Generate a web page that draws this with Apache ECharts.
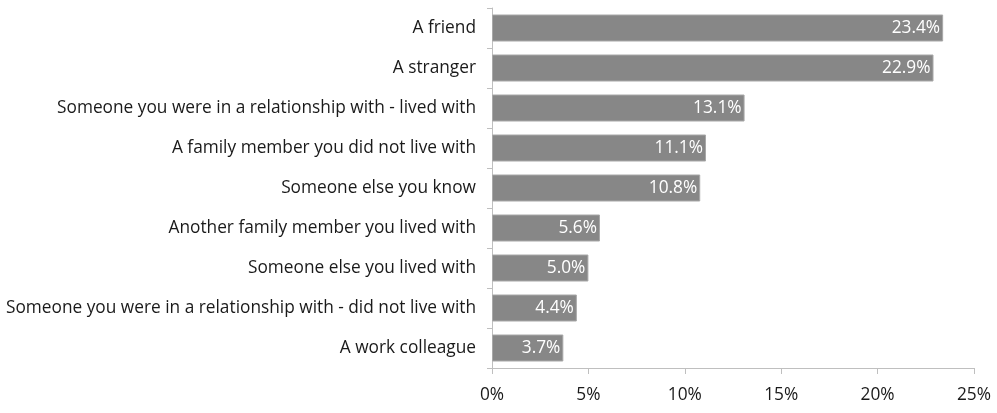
<!DOCTYPE html>
<html>
<head>
<meta charset="utf-8">
<script src="https://cdn.jsdelivr.net/npm/echarts@6/dist/echarts.min.js"></script>
<style>
  html, body { margin: 0; padding: 0; background: #fff; }
  #chart { width: 997px; height: 413px; }
</style>
</head>
<body>
<div id="chart"></div>
<script>
const categories = [
    'A friend',
    'A stranger',
    'Someone you were in a relationship with - lived with',
    'A family member you did not live with',
    'Someone else you know',
    'Another family member you lived with',
    'Someone else you lived with',
    'Someone you were in a relationship with - did not live with',
    'A work colleague'
];
const values = [23.4, 22.9, 13.1, 11.1, 10.8, 5.6, 5.0, 4.4, 3.7];
const xTicks = [0, 5, 10, 15, 20, 25];

const font = 'Open Sans';
const fontSize = 17.3;
const myChart = echarts.init(document.getElementById('chart'), null, { renderer: 'canvas' });

const option = {
    animation: false,
    grid: { left: 492, right: 23, top: 8, bottom: 45 },
    xAxis: {
        type: 'value',
        min: xTicks[0],
        max: xTicks[xTicks.length - 1],
        interval: 5,
        splitLine: { show: false },
        axisLine: { show: true, lineStyle: { color: '#bfbfbf' } },
        axisTick: { show: true, length: 6, lineStyle: { color: '#bfbfbf' } },
        axisLabel: {
            color: '#1a1a1a',
            fontFamily: font,
            fontSize: fontSize,
            margin: 19,
            formatter: v => v + '%'
        }
    },
    yAxis: {
        type: 'category',
        inverse: true,
        data: categories,
        axisLine: { show: true, lineStyle: { color: '#bfbfbf' } },
        axisTick: { show: true, length: 5, lineStyle: { color: '#bfbfbf' } },
        axisLabel: {
            color: '#1a1a1a',
            fontFamily: font,
            fontSize: fontSize,
            margin: 16
        }
    },
    series: [{
        type: 'bar',
        data: values,
        barWidth: 27,
        itemStyle: { color: '#878787', borderColor: '#a8a8a8', borderWidth: 1 },
        label: {
            show: true,
            position: 'insideRight',
            distance: 3,
            color: '#fff',
            fontFamily: font,
            fontSize: fontSize,
            formatter: p => p.value.toFixed(1) + '%'
        }
    }]
};

myChart.setOption(option);
</script>
</body>
</html>
